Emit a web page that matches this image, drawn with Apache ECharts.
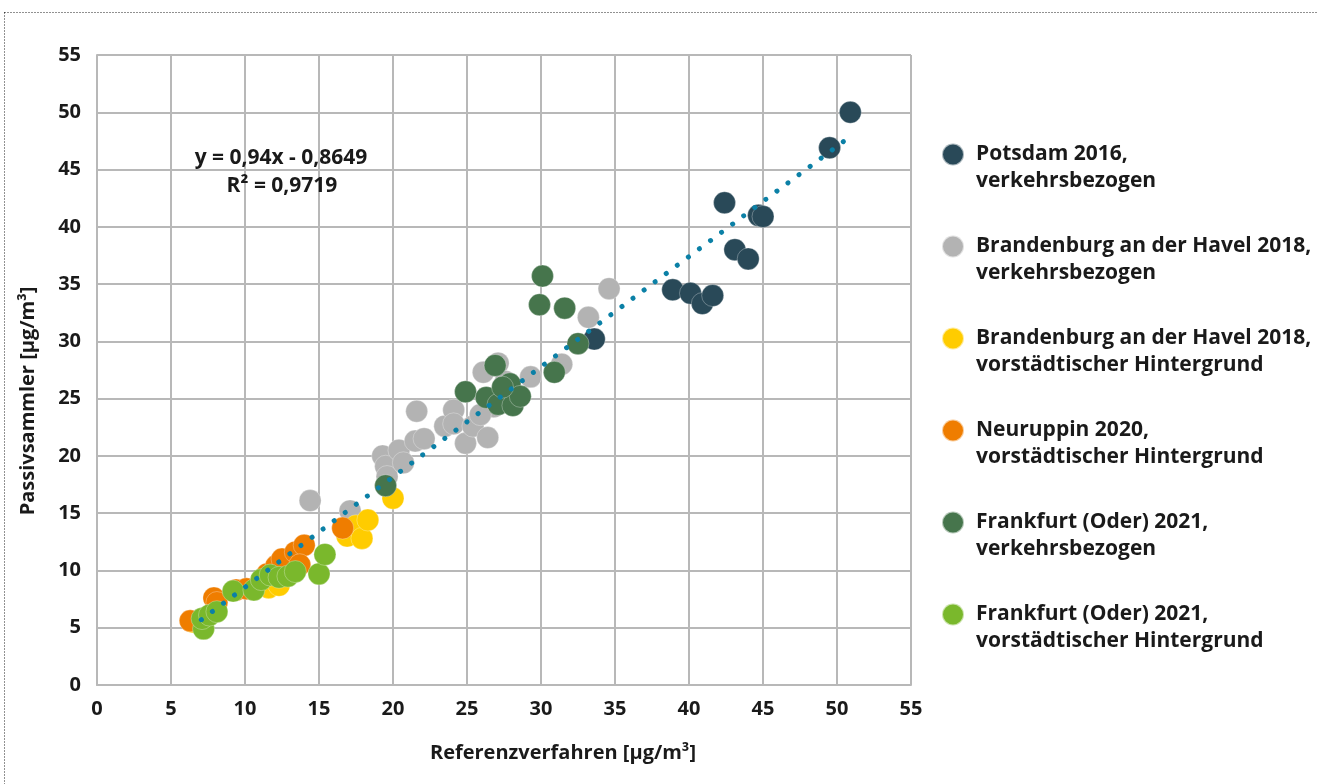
<!DOCTYPE html>
<html>
<head>
<meta charset="utf-8">
<script src="https://cdn.jsdelivr.net/npm/echarts@6/dist/echarts.min.js"></script>
<style>
html,body{margin:0;padding:0;background:#fff;}
#chart{width:1318px;height:784px;}
</style>
</head>
<body>
<div id="chart"></div>
<script>
// ---- data ----
const seriesNames = [
  'Potsdam 2016, verkehrsbezogen',
  'Brandenburg an der Havel 2018, verkehrsbezogen',
  'Brandenburg an der Havel 2018, vorstädtischer Hintergrund',
  'Neuruppin 2020, vorstädtischer Hintergrund',
  'Frankfurt (Oder) 2021, verkehrsbezogen',
  'Frankfurt (Oder) 2021, vorstädtischer Hintergrund'
];
const seriesColors = ['#294958', '#b3b3b3', '#ffcc00', '#ef7d00', '#46754c', '#7ab82c'];

const potsdam2016 = [
  [33.6, 30.2], [38.9, 34.5], [40.1, 34.2], [40.9, 33.3], [41.6, 34.0], [42.4, 42.1],
  [43.1, 38.0], [44.0, 37.2], [44.7, 41.0], [45.0, 40.9], [49.5, 46.9], [50.9, 50.0]
];
const brandenburgVerkehr = [
  [14.4, 16.1], [17.1, 15.2], [19.3, 20.0], [19.5, 19.1], [19.6, 18.2], [20.4, 20.5],
  [20.7, 19.4], [21.5, 21.3], [21.6, 23.9], [22.1, 21.5], [23.5, 22.6], [24.1, 24.0],
  [24.1, 22.8], [24.9, 21.1], [25.4, 22.6], [26.4, 21.6], [26.8, 24.3], [26.1, 27.3],
  [27.1, 28.1], [27.6, 26.5], [29.3, 26.9], [31.4, 28.0], [33.2, 32.1], [34.6, 34.6],
  [25.9, 23.6], [28.0, 25.8]
];
const brandenburgVorstadt = [
  [6.5, 5.5], [11.6, 8.5], [12.3, 8.7], [16.9, 13.0], [17.5, 13.9], [17.9, 12.8],
  [18.3, 14.4], [20.0, 16.3]
];
const neuruppin2020 = [
  [6.3, 5.6], [7.9, 7.6], [8.1, 7.2], [9.4, 8.3], [10.1, 8.4], [11.5, 9.7],
  [12.1, 10.4], [12.5, 11.0], [13.4, 11.6], [14.0, 12.2], [13.7, 10.5], [16.6, 13.7]
];
const frankfurtVerkehr = [
  [19.5, 17.4], [24.9, 25.6], [26.3, 25.1], [26.9, 27.9], [27.1, 24.5], [27.9, 26.3],
  [28.1, 24.4], [28.6, 25.2], [29.9, 33.2], [30.1, 35.7], [30.9, 27.3], [31.6, 32.9],
  [32.5, 29.8], [27.4, 26.0]
];
const frankfurtVorstadt = [
  [7.2, 4.9], [7.1, 5.8], [7.6, 6.1], [8.1, 6.4], [9.2, 8.2], [10.6, 8.3],
  [11.1, 9.2], [11.7, 9.6], [12.3, 9.4], [12.9, 9.5], [13.4, 9.9], [15.0, 9.7],
  [15.4, 11.4]
];
const trendLine = [[7.05, 5.7], [50.6, 47.6]];
const equationLines = ['y = 0,94x - 0,8649', 'R² = 0,9719'];
const xTitle = 'Referenzverfahren [µg/m³]';
const yTitle = 'Passivsammler [µg/m³]';
const axisMin = 0, axisMax = 55, axisStep = 5;

const allData = [potsdam2016, brandenburgVerkehr, brandenburgVorstadt, neuruppin2020, frankfurtVerkehr, frankfurtVorstadt];

const FONT = '"Open Sans", "Noto Sans", sans-serif';
const gridColor = '#b8b8b8';
const textColor = '#1a1a1a';

const chart = echarts.init(document.getElementById('chart'), null, {renderer: 'canvas'});

const scatterSeries = allData.map((d, i) => ({
  name: seriesNames[i],
  type: 'scatter',
  data: d,
  symbol: 'circle',
  symbolSize: 22,
  itemStyle: {color: seriesColors[i], opacity: 1, borderColor: 'rgba(255,255,255,0.6)', borderWidth: 0.5},
  emphasis: {disabled: true},
  z: 2 + i
}));

const axisCommon = {
  type: 'value',
  min: axisMin,
  max: axisMax,
  interval: axisStep,
  axisLine: {show: true, lineStyle: {color: gridColor, width: 2}},
  axisTick: {show: false},
  splitLine: {show: true, lineStyle: {color: gridColor, width: 2}},
  axisLabel: {color: textColor, fontFamily: FONT, fontWeight: 'bold', fontSize: 20},
  nameLocation: 'middle'
};

chart.setOption({
  animation: false,
  backgroundColor: '#ffffff',
  grid: {left: 97, right: 407, top: 55, bottom: 99, containLabel: false},
  xAxis: Object.assign({}, axisCommon, {
    name: xTitle, nameGap: 58,
    nameTextStyle: {color: textColor, fontFamily: FONT, fontWeight: 'bold', fontSize: 20, padding: [0, 0, 0, 118]},
    axisLabel: Object.assign({}, axisCommon.axisLabel, {margin: 14})
  }),
  yAxis: Object.assign({}, axisCommon, {
    name: yTitle, nameGap: 59,
    nameTextStyle: {color: textColor, fontFamily: FONT, fontWeight: 'bold', fontSize: 20, padding: [0, 62, 0, 0]},
    axisLabel: Object.assign({}, axisCommon.axisLabel, {margin: 16})
  }),
  legend: {
    orient: 'vertical',
    left: 941,
    top: 114,
    padding: 0,
    itemGap: 11,
    itemWidth: 22,
    itemHeight: 22,
    icon: 'circle',
    selectedMode: false,
    data: seriesNames,
    formatter: n => '\n' + n.replace(', ', ',\n'),
    textStyle: {
      color: textColor, fontFamily: FONT, fontWeight: 'bold', fontSize: 21,
      lineHeight: 27, padding: [0, 0, 0, 7]
    }
  },
  graphic: [
    {
      type: 'rect', silent: true, z: 100,
      shape: {x: 4.5, y: 12.5, width: 1400, height: 900},
      style: {fill: 'none', stroke: '#222', lineWidth: 1, lineDash: [1, 2]}
    },
    {
      type: 'text', z: 50, silent: true,
      style: {text: equationLines[0], x: 281, y: 158, textAlign: 'center', textVerticalAlign: 'middle',
        font: 'bold 21px ' + FONT, fill: textColor}
    },
    {
      type: 'text', z: 50, silent: true,
      style: {text: equationLines[1], x: 282, y: 186, textAlign: 'center', textVerticalAlign: 'middle',
        font: 'bold 21px ' + FONT, fill: textColor}
    }
  ],
  series: scatterSeries.concat([{
    name: 'Trend',
    type: 'line',
    data: trendLine,
    symbol: 'none',
    silent: true,
    lineStyle: {color: '#0b80a6', width: 5, type: [0.1, 13.7], cap: 'round'},
    z: 20
  }])
});
</script>
</body>
</html>
